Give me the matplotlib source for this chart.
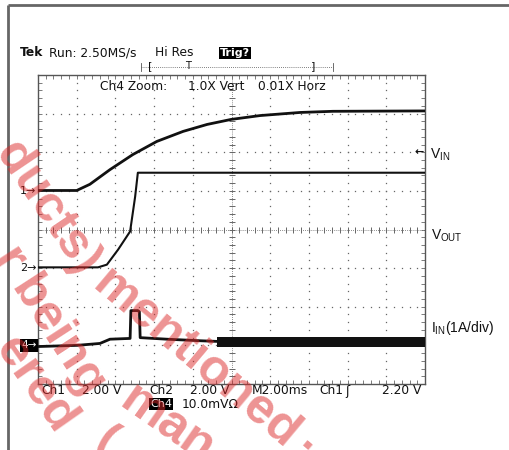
import numpy as np
import matplotlib
matplotlib.use('Agg')
import matplotlib.pyplot as plt
import matplotlib.transforms as mtransforms

plt.rcParams['font.family'] = ['DejaVu Sans']
plt.rcParams['mathtext.fontset'] = 'custom'
plt.rcParams['mathtext.rm'] = 'Liberation Sans'

# trace data in screen divisions (x: 0..10, y: -4..4)
vin_x = [0, 1.0, 1.34, 1.86, 2.45, 3.07, 3.75, 4.37, 4.99, 5.74, 6.77, 7.62, 10]
vin_y = [1.01, 1.01, 1.17, 1.55, 1.94, 2.28, 2.54, 2.72, 2.85, 2.95, 3.03, 3.06, 3.07]

vout_x = [0, 1.55, 1.78, 2.07, 2.38, 2.51, 2.58, 10]
vout_y = [-0.98, -0.98, -0.91, -0.52, -0.05, 0.85, 1.47, 1.47]

iin_x = [0, 1.0, 1.6, 1.86, 2.38, 2.40, 2.58, 2.62, 2.64, 3.33, 4.19, 4.70, 10]
iin_y = [-3.03, -3.0, -2.95, -2.84, -2.82, -2.10, -2.10, -2.13, -2.80, -2.84, -2.88, -2.9, -2.91]
# noisy band of Ch4 after the transient
band_x = [4.62, 10]
band_lo = [-3.03, -3.03]
band_hi = [-2.79, -2.79]

gnd_levels = [1.0, -1.0, -3.0]
gnd_names = ['1', '2', '4']
trig_level = 2.0

fig = plt.figure(figsize=(5.09, 4.5), dpi=100)
ax = fig.add_axes([38/509, 1-384/450, 387/509, 309/450])
ax.set_xlim(0, 10)
ax.set_ylim(-4, 4)

# graticule
gc = '#666666'
steps_x = np.arange(0, 10.01, 0.2)
steps_y = np.arange(-4, 4.01, 0.2)
for i in range(1, 10):
    if i == 5:
        continue
    ax.plot(np.full(len(steps_y), i), steps_y, ls='none', marker='s', ms=0.9, color=gc, mew=0)
for j in range(-3, 4):
    if j == 0:
        continue
    ax.plot(steps_x, np.full(len(steps_x), j), ls='none', marker='s', ms=0.9, color=gc, mew=0)
ax.axvline(5, color=gc, lw=0.6, ls=(0, (1, 1.5)))
ax.axhline(0, color=gc, lw=0.6, ls=(0, (1, 1.5)))
ax.plot(np.full(len(steps_y), 5), steps_y, ls='none', marker='_', ms=5, mew=0.7, color=gc)
ax.plot(steps_x, np.zeros(len(steps_x)), ls='none', marker='|', ms=5, mew=0.7, color=gc)

ax.set_xticks(steps_x)
ax.set_yticks(steps_y)
ax.tick_params(direction='in', length=3, width=0.6, color=gc, top=True, right=True,
               labelbottom=False, labelleft=False)
for s in ax.spines.values():
    s.set_color('#555555')
    s.set_linewidth(1.0)

# traces
ax.plot(vin_x, vin_y, color='#111111', lw=2.0, zorder=5)
ax.plot(vout_x, vout_y, color='#111111', lw=1.5, zorder=5)
ax.plot(iin_x, iin_y, color='#111111', lw=2.0, zorder=5)
ax.fill_between(band_x, band_lo, band_hi, color='#111111', lw=0, zorder=5)

# ground markers
blend = mtransforms.blended_transform_factory(ax.transAxes, ax.transData)
for lvl, nm in zip(gnd_levels, gnd_names):
    if nm == '4':
        ax.text(-0.004, lvl, nm + '\u2192', transform=blend, ha='right', va='center',
                fontsize=7.5, color='white', clip_on=False,
                bbox=dict(facecolor='black', edgecolor='none', pad=0.8))
    else:
        ax.text(-0.004, lvl, nm + '\u2192', transform=blend, ha='right', va='center',
                fontsize=8, color='#111111', clip_on=False)
ax.text(0.998, trig_level, '\u2190', transform=blend, ha='right', va='center',
        fontsize=8, weight='bold', color='#111111', clip_on=False)

# overlay in pixel coords for the readouts
ov = fig.add_axes([0, 0, 1, 1])
ov.set_xlim(0, 509)
ov.set_ylim(450, 0)
ov.axis('off')

ov.plot([8, 509], [5, 5], color='#666666', lw=2, solid_capstyle='butt')
ov.plot([8, 8], [5, 450], color='#666666', lw=2, solid_capstyle='butt')

fs = 8.8
tc = '#111111'
ov.text(20, 53, 'Tek', fontsize=fs, weight='bold', va='center', color=tc)
ov.text(49, 53, 'Run: 2.50MS/s', fontsize=fs, va='center', color=tc)
ov.text(155, 53, 'Hi Res', fontsize=fs, va='center', color=tc)
ov.text(220, 53, 'Trig?', fontsize=fs-0.8, weight='bold', va='center', color='white',
        bbox=dict(facecolor='black', edgecolor='none', pad=1.0))

ov.plot([141, 333], [67, 67], color='#555555', lw=0.6, ls=(0, (1, 1.5)))
ov.plot([141, 141], [63, 71], color='#555555', lw=0.6)
ov.plot([333, 333], [63, 71], color='#555555', lw=0.6)
ov.text(150, 66, '[', fontsize=8, ha='center', va='center', color=tc)
ov.text(188, 66, 'T', fontsize=7, ha='center', va='center', color=tc)
ov.text(313, 66, ']', fontsize=8, ha='center', va='center', color=tc)

ov.text(100, 87, 'Ch4 Zoom:', fontsize=fs, va='center', color=tc)
ov.text(188, 87, '1.0X Vert', fontsize=fs, va='center', color=tc)
ov.text(258, 87, '0.01X Horz', fontsize=fs, va='center', color=tc)

ov.text(430, 155, r'V$_{\mathrm{IN}}$', fontsize=10, family='Liberation Sans', va='center', color=tc)
ov.text(431, 236, r'V$_{\mathrm{OUT}}$', fontsize=10, family='Liberation Sans', va='center', color=tc)
ov.text(431, 328, r'I$_{\mathrm{IN}}$(1A/div)', fontsize=10, family='Liberation Sans', va='center', color=tc)

ov.text(41, 391, 'Ch1', fontsize=fs, va='center', color=tc)
ov.text(82, 391, '2.00 V', fontsize=fs, va='center', color=tc)
ov.text(149, 391, 'Ch2', fontsize=fs, va='center', color=tc)
ov.text(190, 391, '2.00 V', fontsize=fs, va='center', color=tc)
ov.text(252, 391, 'M2.00ms', fontsize=fs, va='center', color=tc)
ov.text(319, 391, 'Ch1', fontsize=fs, va='center', color=tc)
ov.text(345, 391, '\u0283', fontsize=fs, va='center', color=tc)
ov.text(382, 391, '2.20 V', fontsize=fs, va='center', color=tc)
ov.text(150, 404, 'Ch4', fontsize=fs-0.8, va='center', color='white',
        bbox=dict(facecolor='black', edgecolor='none', pad=0.8))
ov.text(182, 404, '10.0mV\u03a9', fontsize=fs, va='center', color=tc)

# watermark
wm = dict(fontsize=36, weight='bold', family='Liberation Sans', color='#dc2828',
          alpha=0.5, rotation_mode='anchor', ha='center', va='center', zorder=20)
ov.text(47, 208, 'ducts)', rotation=-56, **wm)
ov.text(196, 359, 'mentioned', rotation=-40, **wm)
ov.text(312, 440, '.', rotation=-40, **wm)
ov.text(50, 320, 'r being', rotation=-57, **wm)
ov.text(167, 425, 'man', rotation=-35, **wm)
ov.text(35, 385, 'ered', rotation=-55, **wm)
ov.text(105, 443, '(', rotation=-30, **wm)

fig.savefig('out.png', dpi=100)
